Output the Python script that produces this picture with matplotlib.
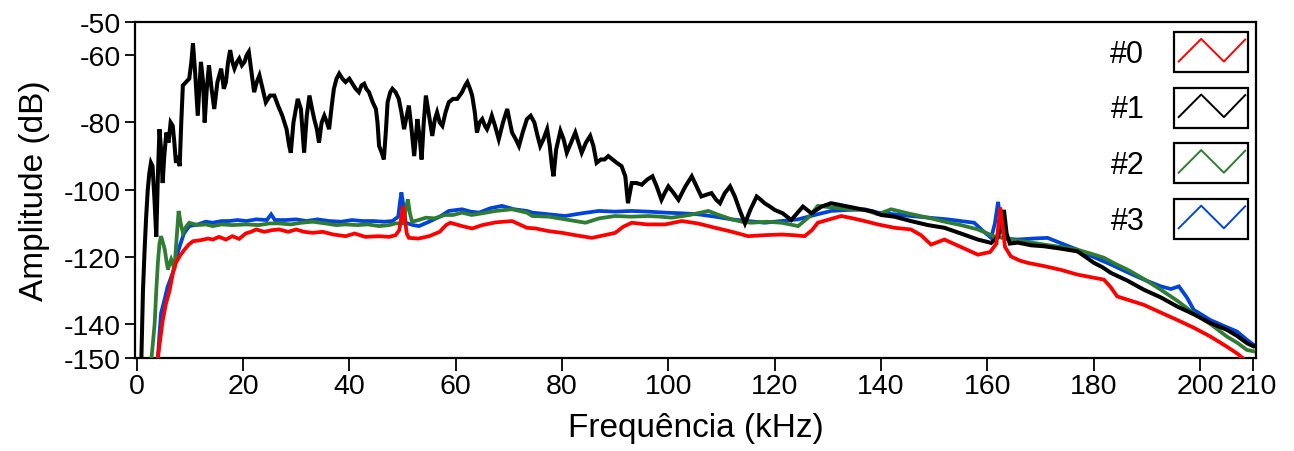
import matplotlib
matplotlib.use("Agg")
import matplotlib.pyplot as plt
from matplotlib.legend_handler import HandlerBase
from matplotlib.patches import Rectangle
from matplotlib.lines import Line2D

plt.rcParams['font.family'] = ['Liberation Sans', 'DejaVu Sans']

# ---------------- data ----------------
labels = ['#0', '#1', '#2', '#3']
colors = ['#ff0000', '#000000', '#2e7d32', '#0044dd']

x_ticks = [0, 20, 40, 60, 80, 100, 120, 140, 160, 180, 200, 210]
y_ticks = [-50, -60, -80, -100, -120, -140, -150]

# series #0 (red)
freq0 = [4.0, 4.4, 4.9, 5.5, 6.2, 6.8, 7.4, 8.2, 9.0, 9.8, 10.6, 12.0, 13.5, 14.3, 15.5,
         16.8, 18.0, 19.3, 20.5, 21.5, 22.5, 24.0, 25.5, 26.8, 28.5, 30.0, 31.5, 33.1, 35.0,
         37.0, 39.3, 41.0, 43.0, 45.6, 47.5, 48.7, 49.4, 49.8, 50.1, 50.4, 50.8, 51.2, 53.0,
         55.0, 57.0, 58.2, 59.0, 61.2, 63.1, 65.0, 67.5, 70.6, 73.4, 75.0, 77.5, 80.0, 82.5,
         85.6, 88.0, 90.0, 91.5, 93.1, 96.0, 99.4, 102.5, 105.5, 108.8, 112.0, 115.0, 118.0,
         121.3, 123.5, 125.6, 127.0, 128.1, 130.3, 132.5, 134.7, 136.9, 139.4, 142.5, 145.6,
         147.5, 149.4, 151.9, 155.0, 158.2, 160.5, 161.7, 162.1, 162.4, 162.8, 163.3, 164.4,
         166.0, 167.5, 170.7, 173.8, 176.9, 179.5, 181.9, 183.2, 184.4, 187.0, 189.4, 192.6,
         195.7, 198.8, 201.9, 205.0, 206.9, 208.0]
amp0 = [-150, -145, -139, -134, -130, -125, -121.7, -119.5, -117.8, -116.3, -115.3, -115,
        -114.5, -114.8, -114, -114.8, -113.8, -114.6, -113, -112.5, -111.8, -112.5, -112,
        -111.8, -112.5, -111.8, -112.5, -112.8, -112.5, -113.3, -113.8, -113, -114, -113.8,
        -114, -113.5, -112, -108, -104.8, -108, -113, -114.3, -114.5, -113.8, -112.5, -110.5,
        -109.8, -110.8, -111.5, -110.5, -109.7, -109.3, -111.3, -111.5, -112.3, -112.8,
        -113.5, -114.3, -113.5, -112.8, -111, -109.8, -110.3, -110.3, -109.3, -110, -111.3,
        -112.5, -113.8, -113.5, -113.3, -113.5, -113.8, -112, -109.8, -108.8, -107.8, -108.5,
        -109.3, -110.3, -111.3, -111.8, -113.5, -116.3, -114.8, -117, -119.3, -118.5, -116,
        -110, -105.3, -110, -117, -119.8, -121, -121.7, -122.7, -123.8, -125.2, -126, -126.7,
        -129, -131.7, -133, -134.2, -136.5, -138.7, -141, -143.6, -146.6, -148.6, -150]

# series #1 (black)
freq1 = [0.9, 1.2, 1.5, 1.8, 2.1, 2.4, 2.7, 3.0, 3.4, 3.7, 4.0, 4.3, 4.6, 4.9, 5.2, 5.6, 6.0,
         6.4, 6.8, 7.1, 7.4, 7.8, 8.1, 8.4, 8.7, 9.3, 9.9, 10.3, 10.6, 11.0, 11.5, 12.1, 12.5,
         12.8, 13.2, 13.6, 14.1, 14.6, 15.2, 15.9, 16.4, 16.8, 17.2, 17.6, 18.0, 18.4, 18.9,
         19.3, 19.8, 20.3, 20.7, 21.1, 21.6, 22.1, 22.6, 23.1, 23.7, 24.3, 25.1, 25.9, 26.6,
         27.4, 28.2, 28.7, 29.0, 29.5, 30.3, 30.9, 31.5, 32.0, 32.5, 33.0, 33.4, 33.9, 34.3,
         34.8, 35.3, 35.8, 36.2, 36.7, 37.1, 37.6, 38.1, 38.7, 39.3, 40.0, 40.6, 41.2, 41.8,
         42.3, 42.8, 43.2, 43.7, 44.4, 45.0, 45.3, 45.6, 46.1, 46.5, 46.9, 47.2, 47.7, 48.1,
         48.7, 49.3, 49.8, 50.3, 50.8, 51.2, 51.7, 52.2, 52.8, 53.2, 53.6, 54.0, 54.4, 55.0,
         55.6, 56.1, 56.5, 57.0, 57.5, 58.1, 58.7, 59.5, 60.3, 61.2, 61.8, 62.2, 62.7, 63.1,
         63.6, 64.0, 64.5, 65.0, 65.5, 65.9, 66.4, 66.8, 67.4, 68.1, 68.9, 69.7, 70.2, 70.6,
         71.3, 71.9, 72.6, 73.4, 74.1, 74.8, 75.4, 75.9, 76.5, 77.2, 77.7, 78.1, 78.4, 78.9,
         79.7, 80.3, 80.9, 81.7, 82.5, 83.1, 83.7, 84.5, 85.3, 85.9, 86.5, 87.3, 88.0, 88.7,
         89.5, 90.3, 91.2, 91.9, 92.4, 93.1, 94.0, 95.0, 96.0, 97.0, 97.8, 98.7, 99.3, 100.0,
         101.0, 101.9, 103.2, 104.4, 105.3, 106.2, 107.1, 108.1, 109.0, 109.7, 110.6, 111.6,
         112.5, 113.4, 114.4, 115.4, 116.6, 117.4, 118.1, 119.1, 120.0, 121.5, 123.1, 124.2,
         125.3, 126.1, 126.9, 128.8, 130.6, 132.2, 133.8, 135.4, 136.9, 138.5, 140.0, 142.5,
         145.6, 148.8, 151.9, 155.0, 158.2, 160.7, 162.0, 162.6, 163.1, 163.6, 164.2, 165.7,
         168.2, 170.7, 173.8, 176.9, 178.5, 180.0, 181.6, 183.2, 186.3, 189.4, 192.6, 195.7,
         198.8, 201.9, 205.0, 207.0, 208.8, 210.0]
amp1 = [-150, -130, -118, -108, -100, -95, -92, -93, -104, -114, -96, -82, -88, -98, -90,
        -83, -86, -80, -81, -86, -92, -90, -93, -80, -69, -68, -67, -62, -56.5, -65, -78, -62,
        -68, -80, -70, -63, -70, -76, -68, -64, -70, -68, -62, -58.5, -62, -64, -62, -61, -63,
        -62, -60, -59, -65, -71, -68, -66, -70, -74, -72, -72, -75, -78, -82, -87, -89, -80,
        -73, -76, -89, -78, -72, -76, -79, -82, -86, -80, -78, -80, -82, -75, -70, -67, -65.5,
        -67, -68, -67, -68.5, -70, -71, -69, -68.5, -70, -71, -74, -76, -80, -87, -89, -91,
        -82, -74, -71, -70, -71, -73, -77, -82, -78, -75, -82, -90, -79, -84, -91, -80, -72,
        -78, -84, -79, -77, -80, -81, -77, -74, -73, -73, -71, -69, -68, -70, -72, -77, -83,
        -80, -79, -81, -82, -80, -78, -81, -85, -80, -76, -80, -83, -85, -87, -83, -79, -78,
        -80, -84, -87, -85, -82, -87, -93, -96, -88, -82.5, -85, -89, -86, -83, -86, -89, -86,
        -84, -87, -92, -91, -91, -90, -91, -92, -93, -96, -104, -98, -98, -98.5, -97, -96,
        -99, -103, -101, -99, -101, -103, -99, -96, -99, -102, -101.5, -101, -103, -104, -101,
        -99, -102, -106, -110, -106, -102, -103, -104, -105, -106, -107, -109, -107, -105,
        -106, -107, -105, -104, -104.5, -105, -105.5, -106, -106.5, -107.5, -108, -109.3,
        -110.5, -111.3, -113, -114.8, -115.8, -114, -110, -106, -113, -116, -115.7, -116.5,
        -116.8, -117.5, -118.3, -120, -121.7, -123, -124.7, -127, -129.7, -132, -134.7, -137,
        -139.6, -141.6, -143.5, -145.6, -146.5]

# series #2 (green)
freq2 = [2.8, 3.1, 3.4, 3.7, 4.0, 4.3, 4.6, 5.0, 5.3, 5.6, 5.9, 6.2, 6.5, 6.8, 7.1, 7.5, 7.9,
         8.3, 8.7, 9.3, 9.9, 11.5, 13.0, 14.3, 16.0, 18.0, 20.6, 23.0, 25.0, 26.8, 29.0, 31.0,
         33.1, 35.5, 37.5, 39.3, 41.5, 43.5, 45.6, 47.5, 48.7, 50.0, 50.5, 51.0, 51.4, 51.8,
         53.0, 54.4, 56.0, 58.0, 59.5, 61.2, 63.0, 65.0, 67.5, 70.6, 73.4, 74.4, 77.5, 80.6,
         82.5, 84.4, 87.0, 90.0, 93.0, 96.2, 98.5, 100.6, 104.0, 107.5, 109.5, 111.9, 113.8,
         115.6, 118.5, 121.3, 124.4, 126.5, 128.1, 131.0, 133.8, 137.0, 139.4, 141.9, 145.0,
         148.8, 152.0, 155.0, 158.2, 161.2, 164.4, 167.5, 170.7, 173.8, 176.9, 179.5, 181.9,
         184.0, 186.3, 189.4, 192.6, 195.7, 198.8, 202.0, 205.0, 207.0, 208.8, 210.0]
amp2 = [-150, -145, -139.6, -130, -121.7, -116, -113.8, -116, -117.8, -121, -123.7, -122,
        -120.7, -122, -123.7, -115, -106.3, -110, -112.8, -111, -109.8, -110.5, -110.3,
        -110.8, -110.3, -110.5, -110.3, -110.5, -110, -110, -110.3, -109.8, -109.5, -110,
        -110.5, -110.3, -110.5, -110.3, -110.8, -110.5, -110, -110, -107, -102.8, -107,
        -109.5, -109, -108.3, -108.5, -107.5, -107.5, -106.8, -107.5, -107, -106.3, -105.8,
        -106.8, -107.8, -108, -108.8, -109.3, -109.8, -108.5, -107.8, -108, -107.8, -108,
        -108.3, -107.5, -106.3, -107.5, -108.8, -109.5, -109.8, -109.5, -109.8, -110.8, -108,
        -104.8, -105.3, -105.8, -106, -107.3, -105.8, -107, -108.3, -109.5, -110.5, -111.8,
        -113.8, -114.8, -115.5, -116.3, -117, -117.8, -119, -120.2, -122, -123.7, -126.5,
        -129.7, -133, -136.7, -140, -143.6, -145.5, -147.6, -148]

# series #3 (blue)
freq3 = [4.0, 4.3, 4.6, 5.2, 5.8, 6.8, 7.4, 8.1, 8.9, 9.9, 11.5, 13.0, 14.3, 16.0, 17.4, 19.0,
         20.6, 22.5, 24.5, 25.3, 26.0, 28.0, 30.0, 32.0, 34.0, 36.2, 38.5, 40.5, 42.5, 44.5,
         46.5, 48.1, 49.2, 49.5, 49.8, 50.1, 50.6, 52.0, 53.1, 55.0, 57.0, 58.7, 61.2, 62.8,
         64.4, 66.5, 68.7, 71.0, 73.4, 74.4, 77.5, 80.6, 83.7, 86.9, 90.0, 93.1, 96.2, 99.4,
         102.5, 105.6, 108.8, 111.9, 115.0, 118.1, 121.2, 124.4, 127.5, 130.6, 133.8, 136.9,
         139.4, 142.5, 145.6, 149.0, 152.5, 155.0, 157.5, 159.0, 160.7, 161.4, 162.0, 162.5,
         163.2, 165.7, 168.5, 171.3, 174.0, 176.9, 180.0, 183.2, 186.3, 189.4, 192.6, 194.5,
         196.0, 197.5, 198.8, 201.9, 204.5, 206.9, 208.8, 210.0]
amp3 = [-150, -143, -136.7, -133, -129, -124.7, -120.5, -116.8, -113, -110.8, -110.3, -109.5,
        -109.8, -109.3, -109.3, -109, -109.3, -108.8, -109, -107.3, -109, -109, -108.8, -109.3,
        -108.8, -109.3, -109.5, -109, -109.3, -109.3, -109.5, -109.3, -108, -104, -100.8, -104,
        -109.8, -110.5, -110.8, -109.5, -108, -106.3, -105.8, -106.5, -106.8, -105.5, -104.8,
        -105.8, -106.3, -106.8, -107.3, -107.8, -107, -106.3, -106.5, -106.3, -106.5, -106.8,
        -107, -107.3, -108, -108.8, -109.3, -109.8, -109.3, -108.8, -107.5, -106.3, -106,
        -105.8, -106.8, -107.3, -107.8, -108.3, -108.8, -109.3, -109.8, -112, -114.3, -110,
        -103.6, -110, -114.5, -114.8, -114.5, -114.3, -116, -117.8, -120, -122.2, -124.5,
        -126.7, -128.7, -129.5, -128.7, -132, -135.7, -138.7, -140.5, -142.1, -144.6, -146]

freqs = [freq0, freq1, freq2, freq3]
amps = [amp0, amp1, amp2, amp3]


# ---------------- legend handle: framed box with zigzag ----------------
class BoxZigzag(HandlerBase):
    def create_artists(self, legend, orig_handle, xdescent, ydescent, width, height,
                       fontsize, trans):
        box = Rectangle((-xdescent, -ydescent), width, height, facecolor='white',
                        edgecolor='black', linewidth=1.6, transform=trans)
        fx = [0.06, 0.365, 0.672, 0.96]
        fy = [0.26, 0.825, 0.26, 0.81]
        line = Line2D([-xdescent + f * width for f in fx],
                      [-ydescent + f * height for f in fy],
                      color=orig_handle.get_color(), linewidth=1.4, transform=trans)
        return [box, line]


# ---------------- figure ----------------
fig = plt.figure(figsize=(12.94, 4.52), dpi=100)
ax = fig.add_axes([135 / 1294, 1 - 359 / 452, (1256 - 135) / 1294, (359 - 22.5) / 452])

handles = [None] * 4
for i in [3, 2, 1, 0]:
    lw = 2.9 if i == 1 else 2.7
    (ln,) = ax.plot(freqs[i], amps[i], color=colors[i], linewidth=lw,
                    solid_joinstyle='miter', zorder=2 + (3 - i))
    handles[i] = ln

ax.set_xlim(-0.3, 210.5)
ax.set_ylim(-150, -50)
ax.set_xticks(x_ticks)
ax.set_xticklabels([str(t) for t in x_ticks])
ax.set_yticks(y_ticks)
ax.set_yticklabels([str(t) for t in y_ticks])

for s in ax.spines.values():
    s.set_linewidth(1.6)
ax.tick_params(axis='x', direction='out', length=9, width=1.3, labelsize=20.5, pad=2)
ax.tick_params(axis='y', direction='out', length=7, width=1.3, labelsize=20.5, pad=3)

ax.set_xlabel('Frequência (kHz)', fontsize=24, labelpad=9)
ax.set_ylabel('Amplitude (dB)', fontsize=24, labelpad=10)

leg = ax.legend(handles, labels, handler_map={Line2D: BoxZigzag()},
                loc='upper right', bbox_to_anchor=(0.993, 0.969), frameon=False,
                markerfirst=False, fontsize=22, handlelength=2.42, handleheight=1.637,
                labelspacing=0.51, handletextpad=0.98, borderpad=0, borderaxespad=0)

fig.savefig('out.png', dpi=100)
